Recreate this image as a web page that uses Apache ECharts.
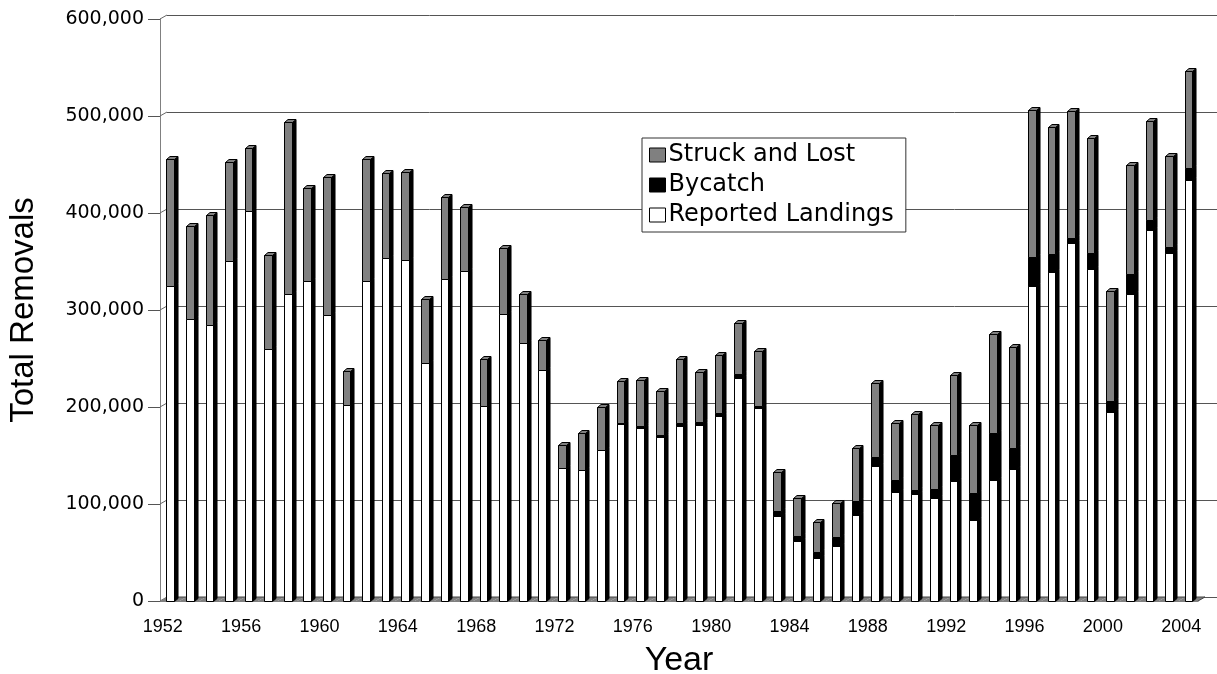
<!DOCTYPE html>
<html><head><meta charset="utf-8">
<script src="https://cdn.jsdelivr.net/npm/echarts@6/dist/echarts.min.js"></script>
<style>html,body{margin:0;padding:0;background:#fff}#c{width:1217px;height:674px}</style>
</head><body><div id="c"></div>
<script>
const years = ['1952','1953','1954','1955','1956','1957','1958','1959','1960','1961','1962','1963','1964','1965','1966','1967','1968','1969','1970','1971','1972','1973','1974','1975','1976','1977','1978','1979','1980','1981','1982','1983','1984','1985','1986','1987','1988','1989','1990','1991','1992','1993','1994','1995','1996','1997','1998','1999','2000','2001','2002','2003','2004'];
const landings = [325000,291000,285000,351000,402000,260000,317000,330000,295000,202000,330000,354000,352000,245000,332000,340000,201000,296000,266000,238000,137500,135500,156000,182500,178500,169500,180000,181500,191000,230000,199000,87500,61700,44000,56600,89000,139000,112400,109800,105700,123800,83600,125000,136000,325000,338800,368600,342000,194800,316600,382700,358700,433800];
const bycatch = [0,0,0,0,0,0,0,0,0,0,0,0,0,0,0,0,0,0,0,0,0,0,0,1500,2000,2000,3000,3000,3000,4000,2500,5500,5200,6200,9000,14000,9500,12000,5000,9500,26500,28200,48500,22000,30000,19000,5500,16700,11000,20500,10300,5800,13000];
const struck = [131000,96000,113000,102000,65000,97000,177000,96000,142000,35000,126000,87000,90000,66000,84000,66000,48000,68000,51000,31000,23000,38100,44000,43000,47500,44500,67000,51500,60000,53000,56000,40000,39400,31400,35500,55100,76100,59000,78300,65900,82200,70000,101900,104300,151000,130900,130900,118300,114200,112900,101900,94000,99200];
const yTicks = [0,100000,200000,300000,400000,500000,600000];

const WALL_DX = 7, WALL_DY = 4;
const GRAY = '#808080';

function crisp(v){ return Math.round(v) + 0.5; }

function barRender(getBase, getTop, fill, cap) {
  return function (params, api) {
    const i = params.dataIndex;
    const base = getBase(i), top = getTop(i);
    if (!(top - base > 0)) return null;
    const bw = api.size([1, 0])[0];
    const c = api.coord([i, base]);
    const t = api.coord([i, top]);
    const fw = bw * 0.39, dx = bw * 0.18, dy = 3;
    const x0 = crisp(c[0] - fw * 0.45), x1 = crisp(c[0] + fw * 0.55);
    const yb = crisp(c[1]), yt = crisp(t[1]);
    const children = [
      { type: 'polygon', shape: { points: [[x1, yb], [x1 + dx, yb - dy], [x1 + dx, yt - dy], [x1, yt]] },
        style: { fill: '#000', stroke: '#000', lineWidth: 1 } },
      { type: 'rect', shape: { x: x0, y: yt, width: x1 - x0, height: yb - yt },
        style: { fill: fill, stroke: '#000', lineWidth: 1 } }
    ];
    if (cap) children.push({ type: 'polygon', shape: { points: [[x0, yt], [x0 + dx, yt - dy], [x1 + dx, yt - dy], [x1, yt]] },
        style: { fill: fill, stroke: '#000', lineWidth: 1 } });
    return { type: 'group', children: children };
  };
}

const chart = echarts.init(document.getElementById('c'), null, { renderer: 'canvas' });
const idx = years.map((y, i) => i);

chart.setOption({
  animation: false,
  backgroundColor: '#fff',
  grid: [
    { left: 160, top: 19, right: 19, bottom: 73, containLabel: false, outerBoundsMode: 'none' },
    { left: 167, top: 15, right: 0, bottom: 77, containLabel: false, outerBoundsMode: 'none' }
  ],
  legend: {
    data: ['Struck and Lost', 'Bycatch', 'Reported Landings'],
    orient: 'vertical', left: 642, top: 138,
    padding: [5, 12, 5, 7], itemGap: 6, itemWidth: 16, itemHeight: 14,
    borderColor: '#333', borderWidth: 1, backgroundColor: '#fff',
    icon: 'rect',
    itemStyle: { borderColor: '#000', borderWidth: 1 },
    textStyle: { fontFamily: 'DejaVu Sans', fontSize: 24, color: '#000', lineHeight: 24, padding: [0, 0, 0, -2] },
    selectedMode: false
  },
  xAxis: [
    { type: 'category', gridIndex: 0, data: years, boundaryGap: true,
      name: 'Year', nameLocation: 'middle', nameGap: 43,
      nameTextStyle: { fontFamily: 'Liberation Sans', fontSize: 34, color: '#000' },
      axisLine: { lineStyle: { color: '#808080', width: 1 } },
      axisTick: { interval: 0, length: 10, lineStyle: { color: '#555' } },
      axisLabel: { interval: 3, margin: 17, fontFamily: 'Liberation Sans', fontSize: 18, color: '#000', padding: [0, 14, 0, 0] },
      splitLine: { show: false } },
    { type: 'value', gridIndex: 1, show: false, min: 0, max: 1 }
  ],
  yAxis: [
    { type: 'value', gridIndex: 0, min: 0, max: 600000, interval: 100000,
      name: 'Total Removals', nameLocation: 'middle', nameGap: 120,
      nameTextStyle: { fontFamily: 'Liberation Sans', fontSize: 33, color: '#000' },
      axisLine: { show: true, lineStyle: { color: '#808080', width: 1 } },
      axisTick: { show: true, length: 12, lineStyle: { color: '#555' } },
      axisLabel: { margin: 16, fontFamily: 'DejaVu Sans', fontSize: 19, color: '#000',
        formatter: v => v.toLocaleString('en-US') },
      splitLine: { show: false } },
    { type: 'value', gridIndex: 1, min: 0, max: 600000, interval: 100000,
      axisLine: { show: false }, axisTick: { show: false }, axisLabel: { show: false },
      splitLine: { show: true, lineStyle: { color: '#555', width: 1 } } }
  ],
  series: [
    { type: 'custom', name: 'wall', xAxisIndex: 0, yAxisIndex: 0, z: 1, silent: true,
      data: yTicks.map(v => [0, v]),
      renderItem: function (params, api) {
        const y = api.coord([0, api.value(1)])[1];
        const x = params.coordSys.x;
        return { type: 'line', shape: { x1: x, y1: y, x2: x + WALL_DX, y2: y - WALL_DY },
          style: { stroke: '#666', lineWidth: 1 } };
      } },
    { type: 'custom', name: 'floor', xAxisIndex: 0, yAxisIndex: 0, z: 1, silent: true,
      data: idx.map(i => [i, 0]),
      renderItem: function (params, api) {
        const i = params.dataIndex;
        const bw = api.size([1, 0])[0];
        const c = api.coord([i, 0]);
        const l = c[0] - bw / 2, r = c[0] + bw / 2;
        const y = c[1];
        const children = [{ type: 'polygon', shape: { points: [[l, y], [r, y], [r + WALL_DX, y - WALL_DY], [l + WALL_DX, y - WALL_DY]] },
          style: { fill: GRAY, stroke: null } }];
        children.push({ type: 'line', shape: { x1: l + WALL_DX, y1: y - WALL_DY, x2: r + WALL_DX, y2: y - WALL_DY }, style: { stroke: '#444', lineWidth: 1 } });
        if (i === years.length - 1) children.push({ type: 'line', shape: { x1: r, y1: y, x2: r + WALL_DX, y2: y - WALL_DY }, style: { stroke: '#444', lineWidth: 1 } });
        return { type: 'group', children: children };
      } },
    { type: 'custom', name: 'Reported Landings', z: 3,
      itemStyle: { color: '#fff' },
      data: idx.map(i => [i, landings[i]]),
      renderItem: barRender(i => 0, i => landings[i], '#fff', false) },
    { type: 'custom', name: 'Bycatch', z: 3,
      itemStyle: { color: '#000' },
      data: idx.map(i => [i, landings[i] + bycatch[i]]),
      renderItem: barRender(i => landings[i], i => landings[i] + bycatch[i], '#000', false) },
    { type: 'custom', name: 'Struck and Lost', z: 3,
      itemStyle: { color: GRAY },
      data: idx.map(i => [i, landings[i] + bycatch[i] + struck[i]]),
      renderItem: barRender(i => landings[i] + bycatch[i], i => landings[i] + bycatch[i] + struck[i], GRAY, true) }
  ]
});
</script></body></html>
